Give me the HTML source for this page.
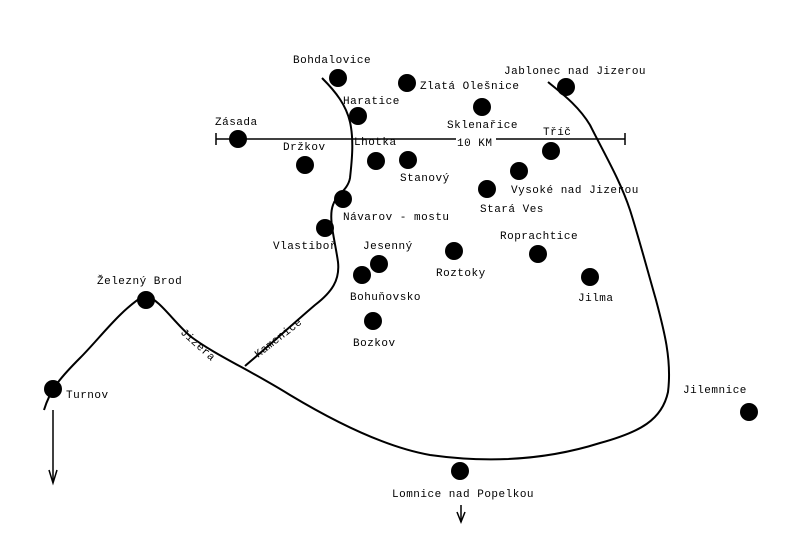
<!DOCTYPE html>
<html><head><style>body{margin:0;background:#fff}svg{display:block}text{font-family:"Liberation Mono",monospace;font-size:11px;fill:#000;letter-spacing:0.5px}</style></head><body>
<svg width="800" height="546" viewBox="0 0 800 546">
<g fill="none" stroke="#000" stroke-width="2">
<path d="M322,78 C336,92 346,105 350,122 C354,140 352,160 350,178 C348,190 336,195 333,205 C328,218 335,240 338,262 C340,280 332,292 315,305 C295,322 270,345 245,366"/>
<path d="M44,410 C50,390 60,378 80,358 C100,338 120,310 145,295 C160,300 172,320 190,336 C215,355 250,370 290,395 C340,425 390,448 430,455 C480,462 540,462 600,443 C640,432 662,420 668,392 C672,360 664,330 656,300 C646,265 638,235 630,210 C620,180 605,155 590,125 C578,105 560,92 548,82"/>
<path d="M53,410 L53,482" stroke-width="1.5"/>
<path d="M49,470 L53,483 L57,470" stroke-width="1.5"/>
<path d="M461,505 L461,522" stroke-width="1.5"/>
<path d="M457,512 L461,522 L465,512" stroke-width="1.5"/>
<path d="M216,139 L625,139 M216,133 L216,145 M625,133 L625,145" stroke-width="1.5"/>
</g>
<g fill="#000">
<circle cx="338" cy="78" r="9"/><circle cx="407" cy="83" r="9"/><circle cx="358" cy="116" r="9"/><circle cx="482" cy="107" r="9"/><circle cx="566" cy="87" r="9"/><circle cx="238" cy="139" r="9"/><circle cx="551" cy="151" r="9"/><circle cx="305" cy="165" r="9"/><circle cx="376" cy="161" r="9"/><circle cx="408" cy="160" r="9"/><circle cx="519" cy="171" r="9"/><circle cx="487" cy="189" r="9"/><circle cx="343" cy="199" r="9"/><circle cx="325" cy="228" r="9"/><circle cx="379" cy="264" r="9"/><circle cx="362" cy="275" r="9"/><circle cx="454" cy="251" r="9"/><circle cx="538" cy="254" r="9"/><circle cx="590" cy="277" r="9"/><circle cx="373" cy="321" r="9"/><circle cx="146" cy="300" r="9"/><circle cx="53" cy="389" r="9"/><circle cx="749" cy="412" r="9"/><circle cx="460" cy="471" r="9"/>
</g>
<rect x="456" y="136" width="40" height="10" fill="#fff"/>
<text x="293" y="63">Bohdalovice</text>
<text x="420" y="89">Zlatá Olešnice</text>
<text x="343" y="104">Haratice</text>
<text x="447" y="128">Sklenařice</text>
<text x="504" y="74">Jablonec nad Jizerou</text>
<text x="215" y="125">Zásada</text>
<text x="354" y="145">Lhotka</text>
<text x="457" y="146">10 KM</text>
<text x="543" y="135">Tříč</text>
<text x="283" y="150">Držkov</text>
<text x="400" y="181">Stanový</text>
<text x="511" y="193">Vysoké nad Jizerou</text>
<text x="480" y="212">Stará Ves</text>
<text x="343" y="220">Návarov - mostu</text>
<text x="273" y="249">Vlastiboř</text>
<text x="363" y="249">Jesenný</text>
<text x="500" y="239">Roprachtice</text>
<text x="436" y="276">Roztoky</text>
<text x="350" y="300">Bohuňovsko</text>
<text x="578" y="301">Jilma</text>
<text x="353" y="346">Bozkov</text>
<text x="97" y="284">Železný Brod</text>
<text x="66" y="398">Turnov</text>
<text x="683" y="393">Jilemnice</text>
<text x="392" y="497">Lomnice nad Popelkou</text>
<text x="0" y="0" transform="translate(180,333) rotate(42)">Jizera</text>
<text x="0" y="0" transform="translate(258,358) rotate(-38)">Kamenice</text>
</svg>
</body></html>
